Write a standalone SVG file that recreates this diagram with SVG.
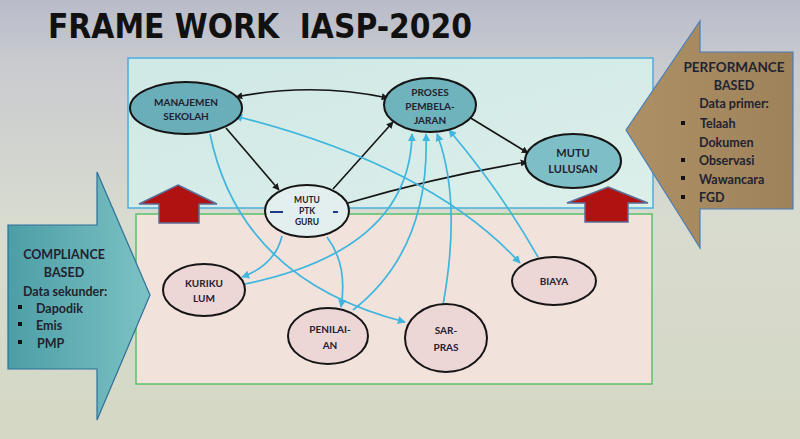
<svg xmlns="http://www.w3.org/2000/svg" width="800" height="439" viewBox="0 0 800 439">
<defs>
<linearGradient id="bg" x1="0" y1="0" x2="0" y2="1">
<stop offset="0" stop-color="#b9bbc9"/>
<stop offset="0.15" stop-color="#c9cbcf"/>
<stop offset="0.5" stop-color="#d8dbcf"/>
<stop offset="1" stop-color="#d4d8c4"/>
</linearGradient>
<linearGradient id="topfill" x1="0" y1="0" x2="1" y2="1">
<stop offset="0" stop-color="#cfe8e6"/>
<stop offset="1" stop-color="#dcefea"/>
</linearGradient>
<linearGradient id="teal" x1="0" y1="0" x2="1" y2="0">
<stop offset="0" stop-color="#4c9ea6"/>
<stop offset="1" stop-color="#7cc2c4"/>
</linearGradient>
<linearGradient id="brown" x1="0" y1="0" x2="1" y2="0">
<stop offset="0" stop-color="#ad9065"/>
<stop offset="1" stop-color="#9e825a"/>
</linearGradient>
<marker id="ab" viewBox="0 0 10 10" refX="9" refY="5" markerWidth="7" markerHeight="7" markerUnits="userSpaceOnUse" orient="auto-start-reverse">
<path d="M0,0 L10,5 L0,10 z" fill="#1a1a1a"/>
</marker>
<marker id="ac" viewBox="0 0 10 10" refX="9" refY="5" markerWidth="8" markerHeight="8" markerUnits="userSpaceOnUse" orient="auto-start-reverse">
<path d="M0,0 L10,5 L0,10 z" fill="#3eb6de"/>
</marker>
</defs>
<style>
.t{font-family:"Lato","Liberation Sans",sans-serif;font-weight:bold;fill:#222230;text-anchor:middle}
.n{font-size:10px}
.s{font-size:12.5px}
.st{text-anchor:start}
.bk{fill:none;stroke:#151515;stroke-width:1.6}
.bl{fill:none;stroke:#3eb6de;stroke-width:1.7}
.eb{stroke:#151515;stroke-width:2}
.red{fill:#b01212;stroke:#5a6e96;stroke-width:1.5}
</style>
<rect x="0" y="0" width="800" height="439" fill="url(#bg)"/>
<text x="48" y="38" xml:space="preserve" style="white-space:pre" font-family="DejaVu Sans Condensed, DejaVu Sans, sans-serif" font-weight="bold" font-size="33" fill="#111" textLength="424" lengthAdjust="spacingAndGlyphs">FRAME WORK  IASP-2020</text>

<rect id="top-box" x="128" y="58" width="525" height="150" fill="url(#topfill)" stroke="#4aaedc" stroke-width="1.5"/>
<rect id="bottom-box" x="136" y="214" width="516" height="170" fill="#f2e2dc" stroke="#5cbf6a" stroke-width="1.5"/>

<g id="compliance-arrow">
<polygon points="8,225 97,225 97,172 150,295 97,420 97,369 8,369" fill="url(#teal)" stroke="#2f6f9a" stroke-width="1.2"/>
<text class="t s" x="64" y="259">COMPLIANCE</text>
<text class="t s" x="64" y="277">BASED</text>
<text class="t s" x="65" y="296">Data sekunder:</text>
<rect x="18" y="305" width="4" height="4" fill="#111"/>
<text class="t s st" x="36" y="313">Dapodik</text>
<rect x="18" y="322" width="4" height="4" fill="#111"/>
<text class="t s st" x="36" y="330">Emis</text>
<rect x="18" y="340" width="4" height="4" fill="#111"/>
<text class="t s st" x="37" y="348">PMP</text>
</g>

<g id="performance-arrow">
<polygon points="793,52 700,52 700,21 626,130 700,248 700,209 793,209" fill="url(#brown)" stroke="#4a7fb8" stroke-width="1.2"/>
<text class="t s" x="734" y="72" textLength="101" lengthAdjust="spacingAndGlyphs">PERFORMANCE</text>
<text class="t s" x="734" y="90">BASED</text>
<text class="t s" x="734" y="108">Data primer:</text>
<rect x="681" y="121" width="4" height="4" fill="#111"/>
<text class="t s st" x="700" y="128">Telaah</text>
<text class="t s st" x="699" y="147">Dokumen</text>
<rect x="681" y="158" width="4" height="4" fill="#111"/>
<text class="t s st" x="699" y="165">Observasi</text>
<rect x="681" y="176" width="4" height="4" fill="#111"/>
<text class="t s st" x="699" y="184">Wawancara</text>
<rect x="681" y="195" width="4" height="4" fill="#111"/>
<text class="t s st" x="699" y="202">FGD</text>
</g>

<g id="red-arrow-left">
<polygon class="red" points="178,185 217,204 199,204 199,223 159,223 159,204 139,204"/>
</g>
<g id="red-arrow-right">
<polygon class="red" points="608,187 648,203 628,203 628,222 585,222 585,203 567,203"/>
</g>

<g id="connectors">
<path class="bk" d="M236,97 Q312,82 388,98" marker-start="url(#ab)" marker-end="url(#ab)"/>
<path class="bk" d="M226,128 L279,190" marker-end="url(#ab)"/>
<path class="bk" d="M333,189 L393,122" marker-end="url(#ab)"/>
<path class="bk" d="M469,117 L528,153" marker-end="url(#ab)"/>
<path class="bk" d="M348,203 Q440,176 527,162" marker-end="url(#ab)"/>

<path class="bl" d="M235,116 Q430,165 520,263" marker-start="url(#ac)" marker-end="url(#ac)"/>
<path class="bl" d="M210,134 Q240,280 405,322" marker-end="url(#ac)"/>
<path class="bl" d="M282,236 Q275,265 242,277" marker-end="url(#ac)"/>
<path class="bl" d="M245,284 Q410,250 412,134" marker-end="url(#ac)"/>
<path class="bl" d="M327,237 Q348,265 341,307" marker-end="url(#ac)"/>
<path class="bl" d="M353,310 Q430,250 426,134" marker-end="url(#ac)"/>
<path class="bl" d="M443,305 Q462,200 437,134" marker-end="url(#ac)"/>
<path class="bl" d="M538,257 Q500,190 449,130" marker-end="url(#ac)"/>
</g>

<g id="node-manajemen">
<ellipse class="eb" cx="186" cy="108" rx="56" ry="26" fill="#69aeb8"/>
<text class="t n" x="186" y="106">MANAJEMEN</text>
<text class="t n" x="186" y="120">SEKOLAH</text>
</g>
<g id="node-proses">
<ellipse class="eb" cx="430" cy="105" rx="46" ry="27" fill="#6fb3bd"/>
<text class="t n" x="430" y="96">PROSES</text>
<text class="t n" x="430" y="110">PEMBELA-</text>
<text class="t n" x="430" y="124">JARAN</text>
</g>
<g id="node-lulusan">
<ellipse class="eb" cx="573" cy="161" rx="48" ry="27" fill="#7ebfc7"/>
<text class="t" x="573" y="157" font-size="11">MUTU</text>
<text class="t" x="573" y="173" font-size="11">LULUSAN</text>
</g>
<g id="node-guru">
<ellipse class="eb" cx="307" cy="211" rx="42" ry="26" fill="#e3efee"/>
<line x1="270" y1="212" x2="283" y2="212" stroke="#1c3a8a" stroke-width="2"/>
<line x1="333" y1="212" x2="338" y2="212" stroke="#1c3a8a" stroke-width="2"/>
<text class="t" font-size="8.5" x="307" y="203">MUTU</text>
<text class="t" font-size="8.5" x="307" y="214">PTK</text>
<text class="t" font-size="8.5" x="307" y="225">GURU</text>
</g>
<g id="node-kurikulum">
<ellipse class="eb" cx="204" cy="290" rx="41" ry="26" fill="#ecd6d6"/>
<text class="t n" x="204" y="287">KURIKU</text>
<text class="t n" x="204" y="302">LUM</text>
</g>
<g id="node-penilaian">
<ellipse class="eb" cx="328" cy="336" rx="40" ry="28" fill="#ecd6d6"/>
<text class="t n" x="330" y="333">PENILAI-</text>
<text class="t n" x="330" y="349">AN</text>
</g>
<g id="node-sarpras">
<ellipse class="eb" cx="446" cy="338" rx="41" ry="34" fill="#ecd6d6"/>
<text class="t n" x="446" y="334">SAR-</text>
<text class="t n" x="446" y="351">PRAS</text>
</g>
<g id="node-biaya">
<ellipse class="eb" cx="554" cy="281" rx="42" ry="24" fill="#ecd6d6"/>
<text class="t n" x="554" y="285">BIAYA</text>
</g>
</svg>
